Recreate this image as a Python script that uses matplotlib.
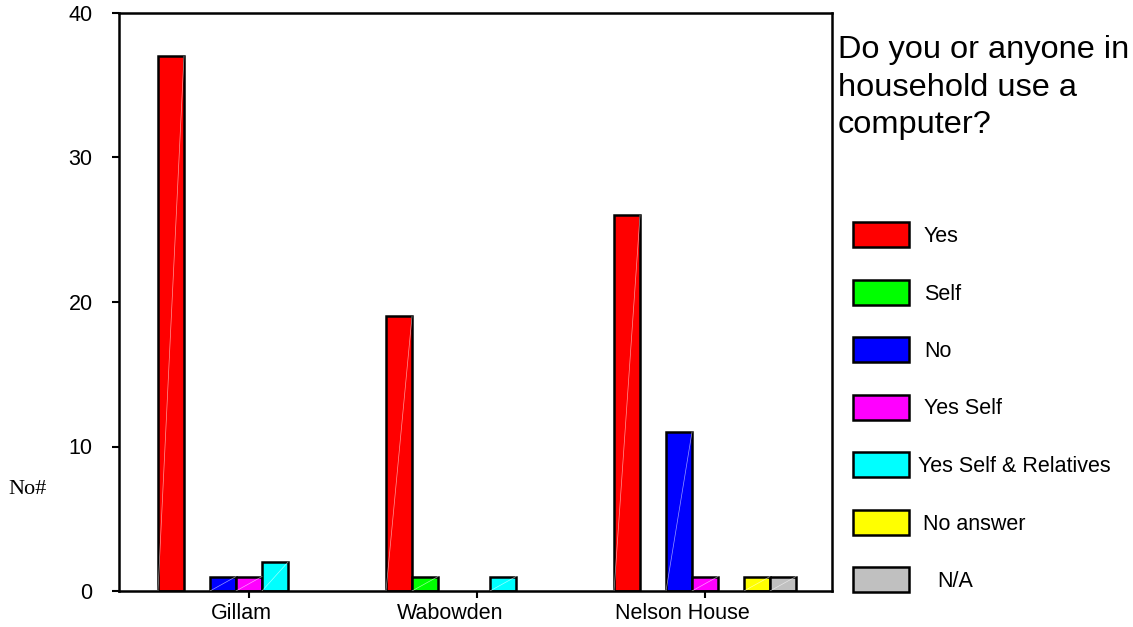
#!/usr/bin/env python3
# -*- coding: utf-8 -*-

import numpy as np
import matplotlib
matplotlib.use("Agg")
import matplotlib.pyplot as plt
from matplotlib.patches import Rectangle
from matplotlib.transforms import ScaledTranslation, blended_transform_factory

# ========= DATA =========
SITES = ["Gillam", "Wabowden", "Nelson House"]
ANSWERS = ["Yes", "Self", "No", "Yes Self", "Yes Self & Relatives", "No answer", "N/A"]
COLORS = ["#ff0000", "#00ff00", "#0000ff", "#ff00ff", "#00ffff", "#ffff00", "#c0c0c0"]

YES = [37, 19, 26]
SELF = [0, 1, 0]
NO = [1, 0, 11]
YES_SELF = [1, 0, 1]
YES_SELF_REL = [2, 1, 0]
NO_ANSWER = [0, 0, 1]
NA = [0, 0, 1]
SERIES = [YES, SELF, NO, YES_SELF, YES_SELF_REL, NO_ANSWER, NA]

Y_TICKS = [0, 10, 20, 30, 40]
TITLE = "Do you or anyone in\nhousehold use a\ncomputer?"
Y_LABEL = "No#"

# ========= LAYOUT =========
W, H = 1133, 627
BAR_W = 0.114
LABEL_SHIFT_PX = [-8, -27, -23]        # site labels sit a bit left of their ticks
LEGEND_TEXT_X = [924, 924, 924, 924, 918, 923, 937]

plt.rcParams["font.family"] = ["Liberation Sans", "DejaVu Sans"]

fig = plt.figure(figsize=(W / 100, H / 100), dpi=100)
ax = fig.add_axes([119 / W, 1 - 591 / H, (832 - 119) / W, (591 - 13) / H])

x = np.arange(len(SITES))
n = len(SERIES)
for j, (vals, col) in enumerate(zip(SERIES, COLORS)):
    offs = (j - (n - 1) / 2) * BAR_W
    vals = np.array(vals, dtype=float)
    mask = vals > 0
    bars = ax.bar(x[mask] + offs, vals[mask], BAR_W, color=col,
                  edgecolor="black", linewidth=1.8, zorder=2)
    # faint white diagonal seen on each bar
    for b in bars:
        ax.plot([b.get_x(), b.get_x() + b.get_width()], [0, b.get_height()],
                color="white", lw=0.5, alpha=0.6, zorder=3)

ax.set_xlim(-0.570, 2.557)
ax.set_ylim(0, 40)
ax.set_yticks(Y_TICKS)
ax.set_xticks(x)
ax.set_xticklabels([])

# site labels, placed as text so they can sit slightly off their ticks
trans = blended_transform_factory(ax.transData, ax.transAxes)
for xi, name, dx in zip(x, SITES, LABEL_SHIFT_PX):
    ax.text(xi, 0, name, fontsize=15.5, ha="center", va="top",
            transform=trans + ScaledTranslation(dx / 100, -12 / 100, fig.dpi_scale_trans))

ax.tick_params(axis="y", direction="out", length=5, width=1.5, labelsize=15.5, pad=14)
ax.tick_params(axis="x", direction="out", length=5, width=1.5)
for s in ax.spines.values():
    s.set_linewidth(1.8)
    s.set_color("black")

fig.text(8 / W, 1 - 490 / H, Y_LABEL, family="Liberation Serif", fontsize=16,
         ha="left", va="center")

fig.text(838 / W, 1 - 35 / H, TITLE, fontsize=23.4, ha="left", va="top",
         linespacing=1.33)

# legend drawn by hand to match the spacing of the original
for i, (lab, col) in enumerate(zip(ANSWERS, COLORS)):
    yc = 234.5 + 57.5 * i
    fig.add_artist(Rectangle((853 / W, 1 - (yc + 12.5) / H), 56 / W, 25 / H,
                             transform=fig.transFigure, facecolor=col,
                             edgecolor="black", linewidth=1.8))
    fig.text(LEGEND_TEXT_X[i] / W, 1 - (yc + 2) / H, lab, fontsize=15.5,
             ha="left", va="center")

fig.savefig("out.png", dpi=100)
